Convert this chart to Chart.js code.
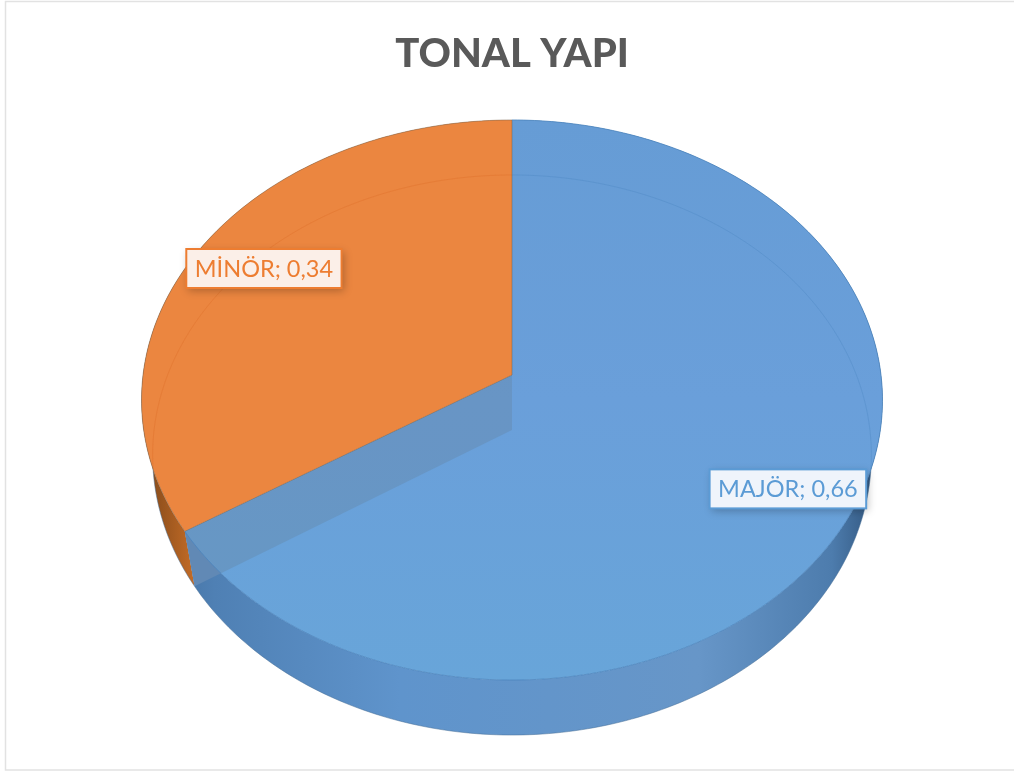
<!DOCTYPE html>
<html>
<head>
<meta charset="utf-8">
<title>TONAL YAPI</title>
<script src="https://cdn.jsdelivr.net/npm/chart.js@4"></script>
<style>
  html, body { margin: 0; padding: 0; background: #fff; }
  canvas { display: block; }
</style>
</head>
<body>
<canvas id="chart-tonal" width="1014" height="771"></canvas>
<script>
const categories = ['MAJÖR', 'MİNÖR'];
const shares = [0.66, 0.34];
const sliceColors = ['#689fd7', '#eb8640'];
const labelColors = ['#5b9bd5', '#ed7d31'];
const chartTitle = 'TONAL YAPI';

// the tilted pie: a circle seen through a small perspective
const view = { cx: 512, cy: 375, rx: 369, ry: 277.8, k: 0.0893, depth: 55, floorX: 0.97, floorY: 1 };
const labelNudge = [{ x: 8, y: 3 }, { x: 2, y: -3 }];

function project(angle, radius, floor) {
  const u = Math.cos(angle) * radius;
  const v = Math.sin(angle) * radius;
  const w = 1 - view.k * v;
  const x = view.rx * (floor ? view.floorX : 1) * u / w;
  const y = view.ry * (floor ? view.floorY : 1) * v / w;
  return { x: view.cx + x, y: view.cy + y + (floor ? view.depth : 0) };
}

function rimPoints(arc, floor) {
  const pts = [];
  const steps = Math.ceil((arc.endAngle - arc.startAngle) * 60);
  for (let i = 0; i <= steps; i++) {
    pts.push(project(arc.startAngle + (arc.endAngle - arc.startAngle) * i / steps, 1, floor));
  }
  return pts;
}

function tracePath(ctx, pts, close) {
  ctx.beginPath();
  pts.forEach((p, i) => (i ? ctx.lineTo(p.x, p.y) : ctx.moveTo(p.x, p.y)));
  if (close) ctx.closePath();
}

function wedge(arc, floor) {
  return [project(0, 0, floor)].concat(rimPoints(arc, floor));
}

function sideGradient(ctx, stops) {
  const g = ctx.createLinearGradient(140, 0, 884, 0);
  stops.forEach(s => g.addColorStop(s[0], s[1]));
  return g;
}

const piePerspective = {
  id: 'piePerspective',
  beforeDraw(chart) {
    const ctx = chart.ctx;
    ctx.save();
    ctx.strokeStyle = '#e2e2e2';
    ctx.lineWidth = 1.5;
    ctx.strokeRect(5.5, 1.5, 1012, 768.5);
    ctx.restore();
  },
  beforeDatasetsDraw(chart) {
    const ctx = chart.ctx;
    const arcs = chart.getDatasetMeta(0).data;
    const major = arcs[0];
    const minor = arcs[1];
    ctx.save();

    // outer walls
    const wallFill = [
      sideGradient(ctx, [[0, '#3d6a99'], [0.1, '#4f80b4'], [0.35, '#5f94cc'], [0.75, '#6796c8'], [0.93, '#4d7cad'], [1, '#2c4f76']]),
      sideGradient(ctx, [[0, '#7a4418'], [0.07, '#c06a26'], [0.12, '#dd7d33'], [1, '#dd7d33']])
    ];
    [minor, major].forEach(arc => {
      const i = arcs.indexOf(arc);
      const top = rimPoints(arc, false);
      const low = rimPoints(arc, true).reverse();
      tracePath(ctx, top.concat(low), true);
      ctx.fillStyle = wallFill[i];
      ctx.fill();
      tracePath(ctx, rimPoints(arc, true), false);
      ctx.strokeStyle = 'rgba(70,110,150,0.5)';
      ctx.lineWidth = 1;
      ctx.stroke();
    });

    // cut wall along the orange slice, seen through the blue top
    const cutEnd = major.endAngle;
    const cutWall = [project(0, 0, false), project(cutEnd, 1, false), project(cutEnd, 1, true), project(0, 0, true)];
    tracePath(ctx, cutWall, true);
    ctx.fillStyle = '#6189b5';
    ctx.fill();

    // top faces
    arcs.forEach((arc, i) => {
      tracePath(ctx, wedge(arc, false), true);
      if (i === 0) {
        const g = ctx.createLinearGradient(0, 120, 0, 680);
        g.addColorStop(0, '#669cd5');
        g.addColorStop(0.5, '#6a9fda');
        g.addColorStop(1, '#68a5d9');
        ctx.fillStyle = g;
      } else {
        ctx.fillStyle = arc.options.backgroundColor;
      }
      ctx.fill();
    });

    // cut wall and floor rim shining through the top
    ctx.save();
    tracePath(ctx, wedge(major, false), true);
    ctx.clip();
    tracePath(ctx, cutWall, true);
    ctx.fillStyle = 'rgba(100,125,150,0.3)';
    ctx.fill();
    tracePath(ctx, rimPoints(major, true), false);
    ctx.strokeStyle = 'rgba(70,130,190,0.3)';
    ctx.lineWidth = 1;
    ctx.stroke();
    ctx.restore();

    ctx.save();
    tracePath(ctx, wedge(minor, false), true);
    ctx.clip();
    tracePath(ctx, rimPoints(minor, true), false);
    ctx.strokeStyle = 'rgba(225,115,45,0.5)';
    ctx.lineWidth = 1;
    ctx.stroke();
    ctx.restore();

    // slice edges
    tracePath(ctx, wedge(minor, false), true);
    ctx.strokeStyle = 'rgba(120,100,80,0.5)';
    ctx.lineWidth = 1;
    ctx.stroke();
    tracePath(ctx, rimPoints(major, false), false);
    ctx.strokeStyle = 'rgba(76,132,189,0.8)';
    ctx.lineWidth = 1;
    ctx.stroke();

    ctx.restore();
    return false;
  },
  // afterDatasetsDraw does not run once the datasets are skipped above
  afterDraw(chart) {
    const ctx = chart.ctx;
    const arcs = chart.getDatasetMeta(0).data;
    ctx.save();
    ctx.font = '23.5px Lato';
    ctx.textAlign = 'center';
    ctx.textBaseline = 'middle';
    arcs.forEach((arc, i) => {
      const text = categories[i] + '; ' + String(shares[i]).replace('.', ',');
      const mid = project((arc.startAngle + arc.endAngle) / 2, 0.8, false);
      mid.x += labelNudge[i].x;
      mid.y += labelNudge[i].y;
      const w = ctx.measureText(text).width + 17;
      const h = 39;
      ctx.save();
      ctx.shadowColor = 'rgba(0,0,0,0.25)';
      ctx.shadowBlur = 8;
      ctx.shadowOffsetX = 2;
      ctx.shadowOffsetY = 3;
      ctx.fillStyle = i === 0 ? '#eff4fb' : '#fbefe8';
      ctx.fillRect(mid.x - w / 2, mid.y - h / 2, w, h);
      ctx.restore();
      ctx.strokeStyle = labelColors[i];
      ctx.lineWidth = 2;
      ctx.strokeRect(mid.x - w / 2, mid.y - h / 2, w, h);
      ctx.fillStyle = labelColors[i];
      ctx.fillText(text, mid.x, mid.y + 1);
    });
    ctx.restore();
  }
};

new Chart('chart-tonal', {
  type: 'pie',
  data: {
    labels: categories,
    datasets: [{
      data: shares,
      backgroundColor: sliceColors,
      borderWidth: 0
    }]
  },
  options: {
    responsive: false,
    animation: false,
    layout: { padding: { left: 10 } },
    plugins: {
      legend: { display: false },
      tooltip: { enabled: false },
      title: {
        display: true,
        text: chartTitle,
        color: '#595959',
        font: { family: 'Lato', size: 40, weight: '900' },
        padding: { top: 30, bottom: 10 }
      }
    }
  },
  plugins: [piePerspective]
});
</script>
</body>
</html>
